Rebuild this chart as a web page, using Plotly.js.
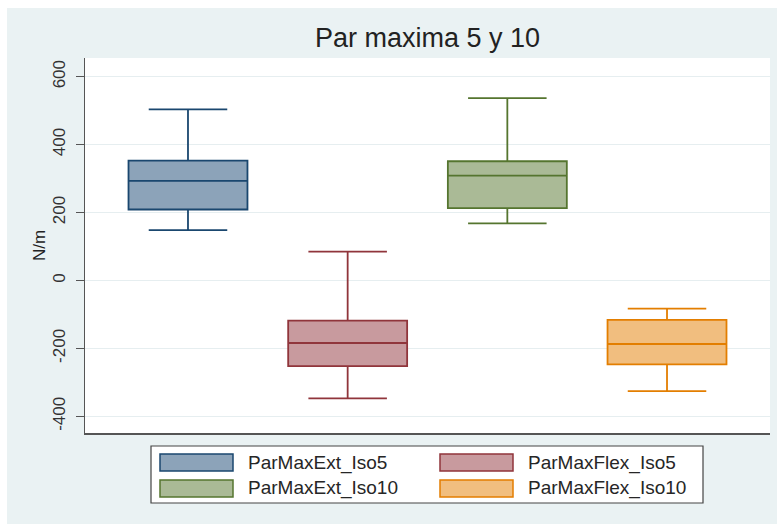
<!DOCTYPE html>
<html>
<head>
<meta charset="utf-8">
<script src="https://cdn.plot.ly/plotly-3.0.1.min.js"></script>
<style>
  html, body { margin: 0; padding: 0; background: #ffffff; }
  #chart { position: absolute; left: 7px; top: 8px; width: 770px; height: 516px; }
</style>
</head>
<body>
<div id="chart"></div>
<script>
// Series names (x order of the boxes, also the legend order, row by row)
const categories = ['ParMaxExt_Iso5', 'ParMaxFlex_Iso5', 'ParMaxExt_Iso10', 'ParMaxFlex_Iso10'];

// Box statistics per series, N/m
const upperWhisker = [504, 85, 537, -83];
const q3Values     = [353, -118, 351, -116];
const medianValues = [293, -184, 309, -187];
const q1Values     = [209, -252, 213, -247];
const lowerWhisker = [148, -347, 168, -326];

// Y axis ticks
const yTicks = [-400, -200, 0, 200, 400, 600];
const yTickLabels = ['-400', '-200', '0', '200', '400', '600'];

// Stata s2color palette: outline colours and 50% intensity fills
const lineColors = ['#1a476f', '#90353b', '#55752f', '#e37e00'];
const fillColors = ['#8ca3b9', '#c89a9e', '#aaba96', '#f1be7f'];

const FONT = 'Liberation Sans, Arial, Helvetica, sans-serif';
const W = 770, H = 516;
const M = { l: 78, r: 7, t: 50, b: 91 };
const plotW = W - M.l - M.r, plotH = H - M.t - M.b;
// helpers to place legend items in paper units from pixel positions in the figure
const px = x => (x - M.l) / plotW;
const py = y => 1 - (y - M.t) / plotH;

const traces = categories.map((name, i) => ({
  type: 'box',
  name: name,
  x: [name],
  q1: [q1Values[i]],
  median: [medianValues[i]],
  q3: [q3Values[i]],
  lowerfence: [lowerWhisker[i]],
  upperfence: [upperWhisker[i]],
  boxpoints: false,
  width: 0.745,
  whiskerwidth: 0.66,
  fillcolor: fillColors[i],
  line: { color: lineColors[i], width: 1.8 },
  hoverinfo: 'skip',
  showlegend: false
}));

// Legend: two columns, filled row by row
const shapes = [{
  type: 'rect', xref: 'paper', yref: 'paper',
  x0: px(144), x1: px(696), y0: py(438), y1: py(495),
  fillcolor: '#ffffff', line: { color: '#444444', width: 1.2 }
}];
const annotations = [];
const colX = [153, 433];
const rowY = [454.5, 480.5];
categories.forEach((name, i) => {
  const c = i % 2, r = Math.floor(i / 2);
  shapes.push({
    type: 'rect', xref: 'paper', yref: 'paper',
    x0: px(colX[c]), x1: px(colX[c] + 73),
    y0: py(rowY[r] + 8.5), y1: py(rowY[r] - 8.5),
    fillcolor: fillColors[i], line: { color: lineColors[i], width: 1.5 }
  });
  annotations.push({
    xref: 'paper', yref: 'paper',
    x: px(colX[c] + 86), y: py(rowY[r]),
    xanchor: 'left', yanchor: 'middle', showarrow: false,
    text: name, font: { family: FONT, size: 19, color: '#262626' }
  });
});

const layout = {
  width: W, height: H,
  margin: M,
  paper_bgcolor: '#eaf2f3',
  plot_bgcolor: '#ffffff',
  showlegend: false,
  boxmode: 'overlay',
  font: { family: FONT, color: '#333333' },
  title: {
    text: 'Par maxima 5 y 10',
    font: { family: FONT, size: 27, color: '#222222' },
    x: 0.5, xref: 'paper', xanchor: 'center',
    y: 1 - 30 / H, yref: 'container', yanchor: 'middle'
  },
  xaxis: {
    type: 'category',
    categoryarray: categories,
    categoryorder: 'array',
    range: [-0.645, 3.645],
    showticklabels: false,
    ticks: '',
    showgrid: false,
    zeroline: false,
    showline: true,
    linecolor: '#555555',
    linewidth: 1.5,
    fixedrange: true
  },
  yaxis: {
    range: [-449, 655],
    tickvals: yTicks,
    ticktext: yTickLabels,
    tickangle: -90,
    ticks: 'outside',
    ticklen: 8,
    tickwidth: 1.3,
    tickcolor: '#555555',
    tickfont: { family: FONT, size: 17, color: '#333333' },
    ticklabelstandoff: 4,
    showline: true,
    linecolor: '#555555',
    linewidth: 1.5,
    showgrid: true,
    gridcolor: '#e6eef0',
    gridwidth: 1,
    zeroline: false,
    title: { text: 'N/m', font: { family: FONT, size: 17, color: '#222222' }, standoff: 0 },
    fixedrange: true
  },
  shapes: shapes,
  annotations: annotations
};

Plotly.newPlot('chart', traces, layout, { displayModeBar: false, staticPlot: true });
</script>
</body>
</html>
